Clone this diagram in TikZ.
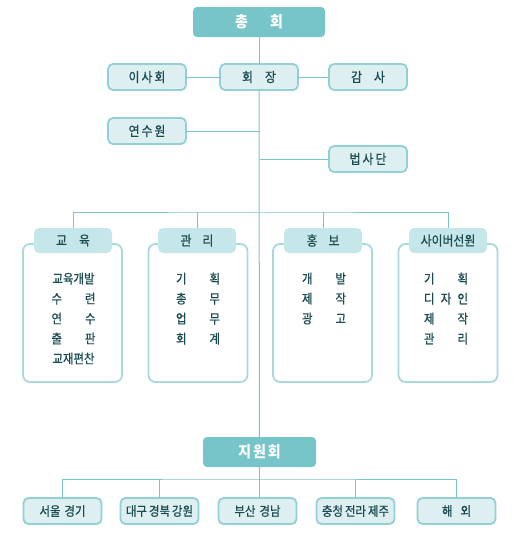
\documentclass[tikz,border=0pt]{standalone}
\usepackage{fontspec}
\setmainfont[FakeStretch=0.9]{Noto Sans CJK KR}
\newfontfamily\krmedium[FakeStretch=0.88,FakeBold=0.6]{Noto Sans CJK KR}
\usetikzlibrary{positioning}

\definecolor{teal1}{HTML}{77C5C9}
\definecolor{paleteal}{HTML}{DDEFF0}
\definecolor{edgeteal}{HTML}{92D0D4}
\definecolor{tabteal}{HTML}{C6E7E9}
\definecolor{inkteal}{HTML}{1A4B50}
\definecolor{lineteal}{HTML}{7CC4C7}

\tikzset{
  headbox/.style={rectangle, rounded corners=4pt, fill=teal1, text=white, inner sep=0pt, outer sep=0pt,
    font=\fontsize{15.5}{17}\selectfont\bfseries},
  smallbox/.style={rectangle, rounded corners=5pt, draw=edgeteal, line width=1.8pt, fill=paleteal, text=inkteal,
    minimum width=78pt, minimum height=26pt, inner sep=0pt, outer sep=0pt, font=\krmedium\fontsize{13.5}{15}\selectfont},
  deptbox/.style={rectangle, rounded corners=7pt, draw=edgeteal!80, line width=1.8pt, fill=white,
    minimum width=99pt, minimum height=138pt, inner sep=0pt, outer sep=0pt},
  depttab/.style={rectangle, rounded corners=5pt, fill=tabteal, text=inkteal, minimum width=78pt, minimum height=25pt,
    inner sep=0pt, outer sep=0pt, font=\krmedium\fontsize{13.5}{15}\selectfont},
  deptlist/.style={anchor=north, align=center, inner sep=0pt, text=inkteal, font=\krmedium\fontsize{13}{20}\selectfont},
  branchbox/.style={smallbox, font=\krmedium\fontsize{13}{14}\selectfont},
  link/.style={draw=lineteal, line width=1pt}
}
\newcommand{\pair}[2]{\makebox[44pt]{#1\hfill #2}}

\begin{document}
\begin{tikzpicture}[x=1pt, y=-1pt]
\useasboundingbox (0,0) rectangle (517,541);

% top
\node[headbox, minimum width=132pt, minimum height=30pt] (chong) at (259,22) {총\hspace{22pt}회};
\node[smallbox] (isa) at (147,77) {이\hspace{2pt}사\hspace{2pt}회};
\node[smallbox] (hoejang) at (259,77) {회\hspace{12pt}장};
\node[smallbox] (gamsa) at (368,77) {감\hspace{12pt}사};
\node[smallbox] (yeonsu) at (147,131) {연\hspace{2pt}수\hspace{2pt}원};
\node[smallbox] (beopsa) at (368,159) {법\hspace{2pt}사\hspace{2pt}단};

\coordinate (bus) at (260,212);

% departments
\node[deptbox] (edu) at (72.5,313) {};
\node[deptbox] (mgmt) at (198,313) {};
\node[deptbox] (pr) at (322.5,313) {};
\node[deptbox] (cyber) at (448,313) {};

\node[depttab] (edutab) at (73,240.5) {교\hspace{12pt}육};
\node[depttab] (mgmttab) at (197,240.5) {관\hspace{11pt}리};
\node[depttab] (prtab) at (323,240.5) {홍\hspace{11pt}보};
\node[depttab] (cybertab) at (448,240.5) {사이버선원};

\node[deptlist] (edulist) at (73.5,272.5) {교육개발\\ \pair{수}{련}\\ \pair{연}{수}\\ \pair{출}{판}\\ 교재편찬};
\node[deptlist] (mgmtlist) at (198,272.5) {\pair{기}{획}\\ \pair{총}{무}\\ \pair{업}{무}\\ \pair{회}{계}};
\node[deptlist] (prlist) at (324,272.5) {\pair{개}{발}\\ \pair{제}{작}\\ \pair{광}{고}};
\node[deptlist] (cyberlist) at (446,272.5) {\pair{기}{획}\\ \makebox[44pt]{디\hfill 자\hfill 인}\\ \pair{제}{작}\\ \pair{관}{리}};

% branches
\node[headbox, minimum width=113pt, minimum height=30pt] (jiwon) at (259.5,452) {지\hspace{2pt}원\hspace{2pt}회};
\coordinate (lowbus) at (260,479);
\node[branchbox] (seoul) at (62.5,511) {서울\hspace{4pt}경기};
\node[branchbox] (daegu) at (159.5,511) {대구\hspace{2pt}경북\hspace{2pt}강원};
\node[branchbox] (busan) at (257.5,511) {부산\hspace{4pt}경남};
\node[branchbox] (chung) at (355.5,511) {충청\hspace{2pt}전라\hspace{2pt}제주};
\node[branchbox] (abroad) at (456.5,511) {해\hspace{8pt}외};

\draw[link] (chong) -- (hoejang);
\draw[link] (hoejang) -- (jiwon);
\draw[link] (isa) -- (hoejang);
\draw[link] (hoejang) -- (gamsa);
\draw[link] (yeonsu.east) -- (yeonsu.east -| bus);
\draw[link] (beopsa.west) -- (beopsa.west -| bus);

\draw[link] (edutab.north) |- (bus) -| (cybertab.north);
\draw[link] (mgmttab.north) -- (mgmttab.north |- bus);
\draw[link] (prtab.north) -- (prtab.north |- bus);

\draw[link] (seoul.north) |- (lowbus) -| (abroad.north);
\draw[link] (daegu.north) -- (daegu.north |- lowbus);
\draw[link] (chung.north) -- (chung.north |- lowbus);
\draw[link] (jiwon.south) -- (busan.north -| jiwon.south);

\end{tikzpicture}
\end{document}
